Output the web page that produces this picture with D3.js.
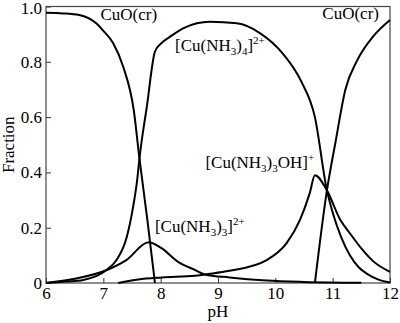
<!DOCTYPE html>
<html>
<head>
<meta charset="utf-8">
<script src="https://cdn.jsdelivr.net/npm/d3@7/dist/d3.min.js"></script>
<style>
  html, body { margin: 0; padding: 0; background: #fff; }
  svg { display: block; font-family: "Liberation Serif", "Times New Roman", serif; }
</style>
</head>
<body>
<svg id="chart" width="400" height="323"></svg>
<script>
// Copper species distribution versus pH
const xTicks = [6, 7, 8, 9, 10, 11, 12];
const yTicks = [0, 0.2, 0.4, 0.6, 0.8, 1.0];
const yTickLabels = ["0", "0.2", "0.4", "0.6", "0.8", "1.0"];

// CuO(cr), low-pH branch
const cuoLowPH   = [6, 6.3, 6.58, 6.87, 7.0, 7.17, 7.35, 7.53, 7.63, 7.77, 7.9];
const cuoLowFrac = [0.977, 0.975, 0.969, 0.94, 0.912, 0.868, 0.78, 0.626, 0.45, 0.225, 0];

// [Cu(NH3)4]2+
const nh34PH   = [6, 6.36, 6.65, 7.05, 7.23, 7.41, 7.52, 7.59, 7.63, 7.76, 7.9, 8.0, 8.16, 8.4, 8.86, 9.33, 9.73, 10.13, 10.45, 10.69, 10.9, 11.0, 11.15, 11.3, 11.45, 11.6, 11.8, 12];
const nh34Frac = [0, 0.005, 0.011, 0.046, 0.083, 0.167, 0.276, 0.372, 0.45, 0.64, 0.837, 0.865, 0.89, 0.922, 0.945, 0.939, 0.904, 0.83, 0.73, 0.6, 0.335, 0.255, 0.165, 0.1, 0.058, 0.033, 0.012, 0.002];

// [Cu(NH3)3]2+
const nh33PH   = [6, 6.5, 7.05, 7.4, 7.79, 8.02, 8.3, 8.6, 8.77, 9.2, 9.85, 10.5, 11.5];
const nh33Frac = [0, 0.015, 0.046, 0.083, 0.147, 0.125, 0.077, 0.047, 0.031, 0.02, 0.009, 0.004, 0.001];

// [Cu(NH3)3OH]+
const nh33ohPH   = [7.26, 7.61, 8.02, 8.6, 8.77, 9.2, 9.85, 10.2, 10.43, 10.6, 10.69, 10.9, 11.13, 11.3, 11.5, 11.7, 12];
const nh33ohFrac = [0, 0.013, 0.02, 0.026, 0.031, 0.044, 0.083, 0.145, 0.228, 0.325, 0.39, 0.335, 0.23, 0.18, 0.125, 0.08, 0.04];

// CuO(cr), high-pH branch
const cuoHighPH   = [10.69, 10.9, 11.05, 11.22, 11.43, 11.7, 12];
const cuoHighFrac = [0, 0.335, 0.51, 0.698, 0.806, 0.89, 0.951];

const svg = d3.select("#chart");
const plotLeft = 46, plotRight = 390, plotTop = 6.5, plotBottom = 283;

const x = d3.scaleLinear().domain([6, 12]).range([plotLeft, plotRight]);
const y = d3.scaleLinear().domain([0, 1]).range([plotBottom, plotTop]);

// axes with inward ticks
const xAxis = d3.axisBottom(x).tickValues(xTicks).tickFormat(d3.format("d"))
  .tickSize(-5).tickPadding(4);
const yAxis = d3.axisLeft(y).tickValues(yTicks)
  .tickFormat((d, i) => yTickLabels[i]).tickSize(-5).tickPadding(4);

const gx = svg.append("g").attr("transform", `translate(0,${plotBottom})`).call(xAxis);
const gy = svg.append("g").attr("transform", `translate(${plotLeft},0)`).call(yAxis);
[gx, gy].forEach(g => {
  g.select(".domain").remove();
  g.selectAll("line").attr("stroke", "#333").attr("stroke-width", 1);
  g.selectAll("text").attr("fill", "#000").style("font-size", "17px")
    .style("font-family", "Liberation Serif, serif");
});
// keep the top tick label inside the canvas
gy.selectAll("text").filter(d => d === 1).attr("dy", "0.42em");

// frame
svg.append("rect")
  .attr("x", plotLeft).attr("y", plotTop)
  .attr("width", plotRight - plotLeft).attr("height", plotBottom - plotTop)
  .attr("fill", "none").attr("stroke", "#444").attr("stroke-width", 1.2);

// curves
const line = d3.line()
  .x(d => x(d[0])).y(d => y(d[1]))
  .curve(d3.curveMonotoneX);

const series = [
  [cuoLowPH, cuoLowFrac],
  [nh34PH, nh34Frac],
  [nh33PH, nh33Frac],
  [nh33ohPH, nh33ohFrac],
  [cuoHighPH, cuoHighFrac]
];
svg.append("g").selectAll("path")
  .data(series.map(([px, fy]) => px.map((v, i) => [v, fy[i]])))
  .join("path")
  .attr("d", line)
  .attr("fill", "none")
  .attr("stroke", "#000")
  .attr("stroke-width", 2)
  .attr("stroke-linejoin", "round");

// species labels: parts of [text, role] where role is normal / sub / sup
function label(px, py, parts) {
  const t = svg.append("text").attr("x", px).attr("y", py)
    .attr("fill", "#000").style("font-size", "17px");
  let shift = 0;
  parts.forEach(([s, role]) => {
    const target = role === "sub" ? 4 : role === "sup" ? -7 : 0;
    t.append("tspan")
      .attr("dy", target - shift)
      .style("font-size", role === "normal" ? "17px" : "11px")
      .text(s);
    shift = target;
  });
}

label(x(6.95), y(0.95), [["CuO(cr)", "normal"]]);
label(x(10.82), y(0.955), [["CuO(cr)", "normal"]]);
label(x(8.25), y(0.84), [["[Cu(NH", "normal"], ["3", "sub"], [")", "normal"], ["4", "sub"], ["]", "normal"], ["2+", "sup"]]);
label(x(8.78), y(0.415), [["[Cu(NH", "normal"], ["3", "sub"], [")", "normal"], ["3", "sub"], ["OH]", "normal"], ["+", "sup"]]);
label(x(7.9), y(0.185), [["[Cu(NH", "normal"], ["3", "sub"], [")", "normal"], ["3", "sub"], ["]", "normal"], ["2+", "sup"]]);

// axis titles
svg.append("text")
  .attr("x", (plotLeft + plotRight) / 2).attr("y", 317)
  .attr("text-anchor", "middle").attr("fill", "#000")
  .style("font-size", "17px").text("pH");
svg.append("text")
  .attr("transform", `translate(14,${(plotTop + plotBottom) / 2}) rotate(-90)`)
  .attr("text-anchor", "middle").attr("fill", "#000")
  .style("font-size", "17px").text("Fraction");
</script>
</body>
</html>
